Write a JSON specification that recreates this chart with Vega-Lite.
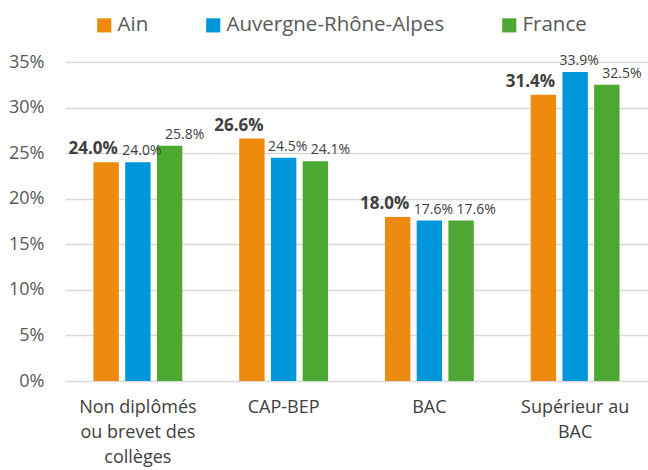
{
  "$schema": "https://vega.github.io/schema/vega-lite/v6.json",
  "width": 583,
  "height": 319,
  "autosize": {"type": "none"},
  "padding": {"left": 65, "top": 62, "right": 0, "bottom": 89},
  "background": "white",
  "config": {"view": {"stroke": null}, "font": "Open Sans"},
  "data": {
    "values": [
      {"niveau": "Non diplômés ou brevet des collèges", "zone": "Ain", "taux": 0.240},
      {"niveau": "Non diplômés ou brevet des collèges", "zone": "Auvergne-Rhône-Alpes", "taux": 0.240},
      {"niveau": "Non diplômés ou brevet des collèges", "zone": "France", "taux": 0.258},
      {"niveau": "CAP-BEP", "zone": "Ain", "taux": 0.266},
      {"niveau": "CAP-BEP", "zone": "Auvergne-Rhône-Alpes", "taux": 0.245},
      {"niveau": "CAP-BEP", "zone": "France", "taux": 0.241},
      {"niveau": "BAC", "zone": "Ain", "taux": 0.180},
      {"niveau": "BAC", "zone": "Auvergne-Rhône-Alpes", "taux": 0.176},
      {"niveau": "BAC", "zone": "France", "taux": 0.176},
      {"niveau": "Supérieur au BAC", "zone": "Ain", "taux": 0.314},
      {"niveau": "Supérieur au BAC", "zone": "Auvergne-Rhône-Alpes", "taux": 0.339},
      {"niveau": "Supérieur au BAC", "zone": "France", "taux": 0.325}
    ]
  },
  "encoding": {
    "x": {
      "field": "niveau",
      "type": "nominal",
      "sort": ["Non diplômés ou brevet des collèges", "CAP-BEP", "BAC", "Supérieur au BAC"],
      "scale": {"paddingInner": 0.347, "paddingOuter": 0.1735},
      "axis": {
        "title": null,
        "labelAngle": 0,
        "labelFontSize": 18,
        "labelColor": "#404040",
        "labelPadding": 17,
        "labelLineHeight": 25,
        "domain": false,
        "ticks": false,
        "labelExpr": "datum.label == 'Non diplômés ou brevet des collèges' ? ['Non diplômés', 'ou brevet des', 'collèges'] : datum.label == 'Supérieur au BAC' ? ['Supérieur au', 'BAC'] : datum.label"
      }
    },
    "xOffset": {
      "field": "zone",
      "type": "nominal",
      "sort": ["Ain", "Auvergne-Rhône-Alpes", "France"],
      "scale": {"paddingInner": 0.2, "paddingOuter": 0.1}
    },
    "y": {
      "field": "taux",
      "type": "quantitative",
      "scale": {"domain": [0, 0.35]},
      "axis": {
        "title": null,
        "format": ".0%",
        "values": [0, 0.05, 0.1, 0.15, 0.2, 0.25, 0.3, 0.35],
        "labelFontSize": 18,
        "labelColor": "#595959",
        "labelPadding": 21,
        "domain": false,
        "ticks": false,
        "gridColor": "#d9d9d9",
        "gridWidth": 1.3
      }
    }
  },
  "layer": [
    {
      "mark": {"type": "bar"},
      "encoding": {
        "color": {
          "field": "zone",
          "type": "nominal",
          "sort": ["Ain", "Auvergne-Rhône-Alpes", "France"],
          "scale": {"domain": ["Ain", "Auvergne-Rhône-Alpes", "France"], "range": ["#EE8A0E", "#0096DB", "#4DA832"]},
          "legend": {
            "title": null,
            "orient": "none",
            "legendX": 29,
            "legendY": -47,
            "direction": "horizontal",
            "symbolType": "square",
            "symbolSize": 200,
            "symbolStrokeWidth": 0,
            "labelFontSize": 20.5,
            "labelLimit": 400,
            "labelColor": "#595959",
            "labelOffset": 3,
            "columnPadding": 54
          }
        }
      }
    },
    {
      "transform": [{"filter": "datum.zone == 'Ain'"}],
      "mark": {"type": "text", "fontWeight": "bold", "fontSize": 17, "baseline": "alphabetic", "dy": -8, "dx": -13, "color": "#404040"},
      "encoding": {"text": {"field": "taux", "type": "quantitative", "format": ".1%"}}
    },
    {
      "transform": [{"filter": "datum.zone == 'Auvergne-Rhône-Alpes'"}],
      "mark": {"type": "text", "fontSize": 14, "baseline": "alphabetic", "dy": -7, "dx": 4, "color": "#404040"},
      "encoding": {"text": {"field": "taux", "type": "quantitative", "format": ".1%"}}
    },
    {
      "transform": [{"filter": "datum.zone == 'France'"}],
      "mark": {"type": "text", "fontSize": 14, "baseline": "alphabetic", "dy": -7, "dx": 15, "color": "#404040"},
      "encoding": {"text": {"field": "taux", "type": "quantitative", "format": ".1%"}}
    }
  ]
}
